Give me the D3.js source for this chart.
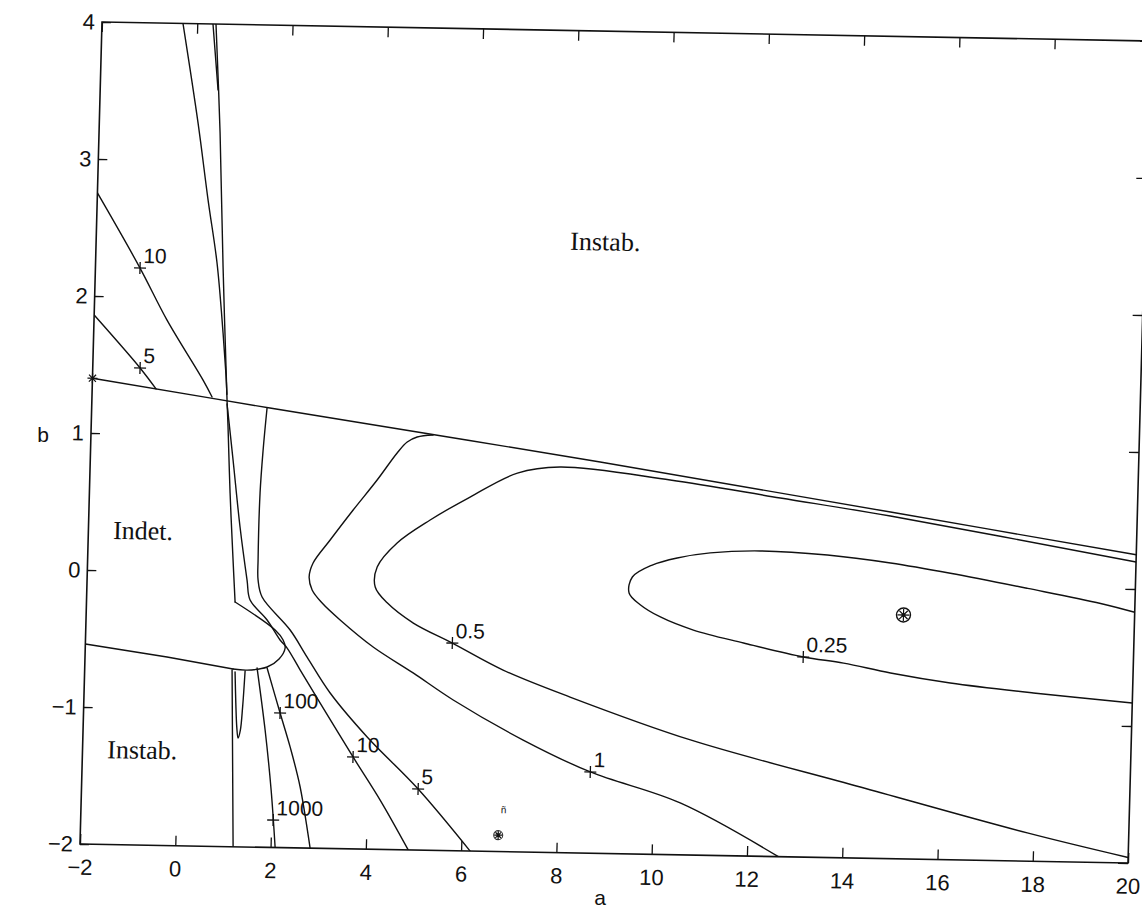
<!DOCTYPE html>
<html>
<head>
<meta charset="utf-8">
<script src="https://cdn.jsdelivr.net/npm/d3@7"></script>
<style>
  html, body { margin: 0; padding: 0; background: #fff; }
  svg { display: block; }
  text { font-family: "Liberation Sans", Arial, Helvetica, sans-serif; fill: #111; }
  .region { font-family: "Liberation Serif", "Times New Roman", serif; font-size: 26px; }
</style>
</head>
<body>
<svg id="chart" width="1142" height="908"></svg>
<script>
// ---- axis ticks -------------------------------------------------------
const aTicks = [-2, 0, 2, 4, 6, 8, 10, 12, 14, 16, 18, 20];
const bTicks = [-2, -1, 0, 1, 2, 3, 4];

// ---- curves in the (a, b) plane --------------------------------------
const stabilityBoundary = [[-2, 1.40], [1.74, 1.206], [8.70, 0.856], [14.82, 0.529], [20, 0.25]];

const contour025 = [[20, -0.17], [19.28, -0.11], [17.74, -0.01], [16.11, 0.09], [14.85, 0.157],
  [13.52, 0.207], [12.11, 0.228], [11.06, 0.207], [10.37, 0.166], [9.85, 0.111], [9.44, 0.021],
  [9.38, -0.096], [9.62, -0.18], [10.05, -0.267], [10.75, -0.358], [11.81, -0.446], [13.07, -0.54],
  [13.92, -0.579], [14.91, -0.645], [16.17, -0.71], [17.92, -0.772], [20, -0.832]];

const contour05 = [[20, 0.197], [14.82, 0.50], [12.5, 0.617], [10.18, 0.734], [7.86, 0.814],
  [6.97, 0.764], [5.99, 0.583], [5.165, 0.41], [4.485, 0.238], [4.08, 0.06], [4.05, -0.086],
  [4.31, -0.20], [4.87, -0.344], [5.70, -0.485], [6.78, -0.675], [8.20, -0.863], [10.75, -1.16],
  [14.34, -1.481], [17.87, -1.794], [20, -1.96]];

const contour1 = [[5.18, 1.031], [4.846, 1.014], [4.64, 0.976], [4.435, 0.895], [4.03, 0.695],
  [3.544, 0.473], [3.078, 0.251], [2.733, 0.081], [2.658, -0.022], [2.728, -0.116], [2.945, -0.21],
  [3.332, -0.331], [4.04, -0.524], [4.894, -0.708], [5.75, -0.90], [7.24, -1.183], [8.667, -1.407],
  [10.57, -1.621], [12.66, -2]];

const contour5Upper = [[-2, 1.861], [-1.007, 1.481], [-0.66, 1.33]];
const contour5Lower = [[1.68, 1.206], [1.621, 0.899], [1.581, 0.585], [1.577, 0.096], [1.588, -0.05],
  [1.682, -0.174], [2.289, -0.411], [2.66, -0.606], [3.164, -0.865], [3.965, -1.181], [5.064, -1.554],
  [6.19, -2]];

const contour10Upper = [[-2, 2.752], [-1.064, 2.21], [-0.468, 1.834], [0.322, 1.401], [0.52, 1.279]];
const contour10Lower = [[0.838, 1.23], [0.996, 0.822], [1.18, 0.334], [1.357, -0.052], [1.432, -0.197],
  [1.80, -0.341], [2.083, -0.485], [2.236, -0.543], [2.52, -0.70], [2.96, -0.94], [3.68, -1.329],
  [4.273, -1.64], [4.89, -2]];

const contour100 = [[1.827, -0.691], [2.125, -1.018], [2.354, -1.264], [2.587, -1.555], [2.83, -2]];
const contour1000 = [[1.617, -0.693], [1.82, -1.144], [1.98, -1.581], [2.096, -2]];

// near-vertical branches around a = 1
const leftBranch = [[-0.30, 4], [0.072, 3.276], [0.326, 2.715], [0.549, 2.257], [0.715, 1.747],
  [0.80, 1.441], [0.83, 1.30]];
const twinBranch = [[0.33, 4], [0.473, 3.52]];
const indetRight = [[0.393, 4], [0.54, 3.206], [0.678, 2.228], [0.836, 1.258], [0.872, 1.062],
  [0.952, 0.58], [1.052, 0.092], [1.118, -0.214]];
const indetLobe = [[1.118, -0.214], [1.974, -0.413], [2.147, -0.485], [2.194, -0.543], [2.073, -0.624],
  [1.827, -0.684], [1.408, -0.709], [1.113, -0.703]];
const indetLower = [[1.113, -0.703], [-0.279, -0.624], [-2, -0.54]];
const belowLobe = [[1.093, -0.71], [1.214, -2]];
const hairpin = [[1.157, -0.725], [1.19, -0.95], [1.225, -1.13], [1.257, -1.206], [1.30, -1.15],
  [1.335, -0.98], [1.367, -0.716]];

// contour labels: text and the point on the curve where it is attached
const contourLabels = [
  { text: "10", a: -1.064, b: 2.21 },
  { text: "5", a: -1.007, b: 1.481 },
  { text: "0.5", a: 5.70, b: -0.485 },
  { text: "0.25", a: 13.07, b: -0.54 },
  { text: "1", a: 8.667, b: -1.407 },
  { text: "5", a: 5.064, b: -1.554 },
  { text: "10", a: 3.68, b: -1.329 },
  { text: "100", a: 2.125, b: -1.018 },
  { text: "1000", a: 2.04, b: -1.80 }
];

// region names
const regionLabels = [
  { text: "Instab.", a: 7.95, b: 2.40 },
  { text: "Indet.", a: -1.48, b: 0.23 },
  { text: "Instab.", a: -1.48, b: -1.37 }
];

// special points
const starPoint = [-2, 1.40];
const optimumPoint = [15.15, -0.22];
const smallMark = [6.77, -1.88];

// ---- layout -----------------------------------------------------------
const W = 1048, H = 822;
const svg = d3.select("#chart");
const x = d3.scaleLinear().domain([-2, 20]).range([0, W]);
const y = d3.scaleLinear().domain([-2, 4]).range([H, 0]);

// the plotting box sits slightly sheared on the page
const g = svg.append("g")
  .attr("transform", `matrix(1, ${19 / W}, ${-22 / H}, 1, 102, 22)`);

g.append("clipPath").attr("id", "plotClip")
  .append("rect").attr("x", 0).attr("y", 0).attr("width", W).attr("height", H);

const ink = "#111";
const intFmt = d3.format("d");

// axes with inward ticks on all four sides
const axB = g.append("g").attr("transform", `translate(0,${H})`)
  .call(d3.axisBottom(x).tickValues(aTicks).tickFormat(intFmt)
    .tickSizeInner(-10).tickSizeOuter(0).tickPadding(15));
const axT = g.append("g")
  .call(d3.axisTop(x).tickValues(aTicks).tickSizeInner(-10).tickSizeOuter(0).tickFormat(""));
const axL = g.append("g")
  .call(d3.axisLeft(y).tickValues(bTicks).tickFormat(intFmt)
    .tickSizeInner(-9).tickSizeOuter(0).tickPadding(7));
const axR = g.append("g").attr("transform", `translate(${W},0)`)
  .call(d3.axisRight(y).tickValues(bTicks).tickSizeInner(-10).tickSizeOuter(0).tickFormat(""));

[axB, axT, axL, axR].forEach(ax => {
  ax.select(".domain").remove();
  ax.attr("font-family", null).attr("font-size", null);
  ax.selectAll(".tick line").attr("stroke", ink).attr("stroke-width", 1.3);
  ax.selectAll(".tick text").attr("fill", ink).style("font-size", "22px");
});

// frame
g.append("rect").attr("x", 0).attr("y", 0).attr("width", W).attr("height", H)
  .attr("fill", "none").attr("stroke", ink).attr("stroke-width", 1.6);

// curves
const smooth = d3.line().x(d => x(d[0])).y(d => y(d[1])).curve(d3.curveCatmullRom.alpha(0.5));
const straight = d3.line().x(d => x(d[0])).y(d => y(d[1]));

const plot = g.append("g").attr("clip-path", "url(#plotClip)")
  .attr("fill", "none").attr("stroke", ink).attr("stroke-width", 1.4)
  .attr("stroke-linejoin", "round").attr("stroke-linecap", "round");

const curves = [
  [stabilityBoundary, smooth], [contour025, smooth], [contour05, smooth], [contour1, smooth],
  [contour5Upper, smooth], [contour5Lower, smooth], [contour10Upper, smooth], [contour10Lower, smooth],
  [contour100, smooth], [contour1000, smooth], [leftBranch, smooth], [twinBranch, straight],
  [indetRight, smooth], [indetLobe, smooth], [indetLower, straight], [belowLobe, straight],
  [hairpin, smooth]
];
curves.forEach(([pts, gen]) => plot.append("path").attr("d", gen(pts)));

// contour label crosses and values
const lab = g.append("g");
contourLabels.forEach(d => {
  const px = x(d.a), py = y(d.b);
  lab.append("path")
    .attr("d", `M${px - 6},${py}H${px + 6}M${px},${py - 6}V${py + 6}`)
    .attr("stroke", ink).attr("stroke-width", 1.3);
  lab.append("text").attr("x", px + 3).attr("y", py - 5)
    .style("font-size", "21px").text(d.text);
});

// region names
g.append("g").selectAll("text").data(regionLabels).join("text")
  .attr("class", "region")
  .attr("x", d => x(d.a)).attr("y", d => y(d.b))
  .text(d => d.text);

// asterisk marker helper
function asterisk(sel, cx, cy, r) {
  let d = "";
  for (let k = 0; k < 4; k++) {
    const t = k * Math.PI / 4;
    d += `M${cx - r * Math.cos(t)},${cy - r * Math.sin(t)}L${cx + r * Math.cos(t)},${cy + r * Math.sin(t)}`;
  }
  sel.append("path").attr("d", d).attr("stroke", ink).attr("stroke-width", 1.2).attr("fill", "none");
}

const marks = g.append("g");
asterisk(marks, x(starPoint[0]), y(starPoint[1]), 5);

const ox = x(optimumPoint[0]), oy = y(optimumPoint[1]);
marks.append("circle").attr("cx", ox).attr("cy", oy).attr("r", 7)
  .attr("fill", "none").attr("stroke", ink).attr("stroke-width", 1.4);
asterisk(marks, ox, oy, 6);
marks.append("circle").attr("cx", ox).attr("cy", oy).attr("r", 2).attr("fill", ink);

const sx = x(smallMark[0]), sy = y(smallMark[1]);
marks.append("circle").attr("cx", sx).attr("cy", sy).attr("r", 4.5)
  .attr("fill", "none").attr("stroke", "#333").attr("stroke-width", 1.1);
asterisk(marks, sx, sy, 4);
marks.append("text").attr("x", sx + 2).attr("y", sy - 22)
  .style("font-size", "10px").attr("fill", "#444").text("ñ");

// axis names
svg.append("text").attr("x", 43).attr("y", 442).attr("text-anchor", "middle")
  .style("font-size", "21px").text("b");
svg.append("text").attr("x", 600).attr("y", 905).attr("text-anchor", "middle")
  .style("font-size", "21px").text("a");
</script>
</body>
</html>
